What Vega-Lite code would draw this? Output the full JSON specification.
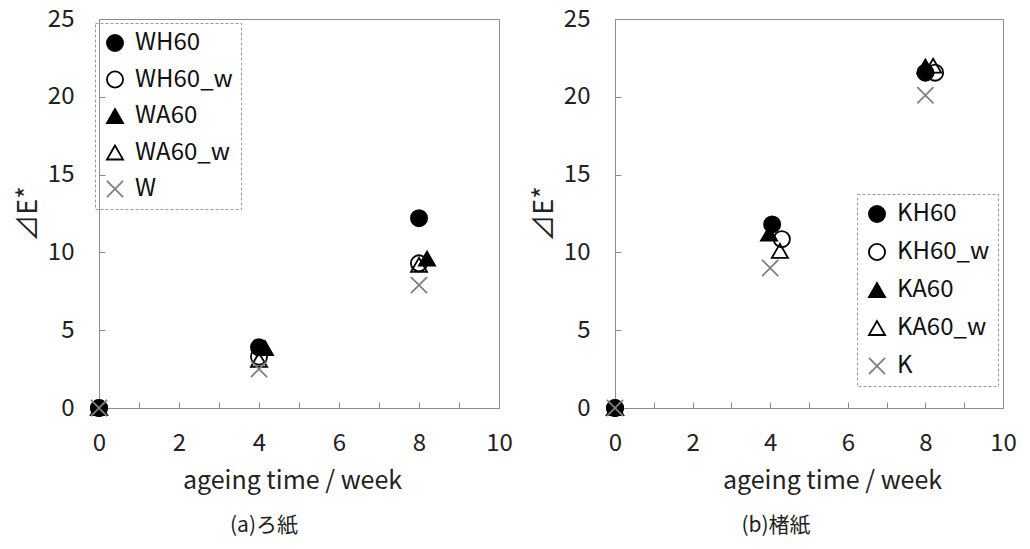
{
  "$schema": "https://vega.github.io/schema/vega-lite/v6.json",
  "background": "white",
  "padding": {"left": 13, "top": 6, "right": 5, "bottom": 5},
  "bounds": "flush",
  "spacing": 116,
  "resolve": {
    "scale": {"shape": "independent", "fill": "independent", "stroke": "independent"},
    "legend": {"shape": "independent", "fill": "independent", "stroke": "independent"}
  },
  "config": {
    "font": "Noto Sans CJK JP",
    "view": {"stroke": "#8c8c8c", "strokeWidth": 1},
    "axis": {
      "grid": false,
      "domainColor": "#8c8c8c",
      "tickColor": "#8c8c8c",
      "tickSize": -6,
      "labelColor": "#222222",
      "titleColor": "#222222",
      "labelFontSize": 24,
      "titleFontSize": 25,
      "titleFontWeight": "normal",
      "labelFlush": false,
      "labelOverlap": false
    },
    "legend": {
      "labelFontSize": 24,
      "labelColor": "#111111",
      "symbolSize": 260,
      "symbolStrokeWidth": 1.8,
      "rowPadding": 12.5,
      "labelOffset": 8,
      "padding": 8,
      "strokeColor": "#9a9a9a",
      "strokeDash": [3, 2]
    },
    "title": {"fontSize": 21, "fontWeight": "normal", "color": "#222222"}
  },
  "datasets": {
    "a": [
      {"series": "WH60", "week": 0, "dE": 0},
      {"series": "WH60", "week": 4, "dE": 3.9},
      {"series": "WH60", "week": 8, "dE": 12.2},
      {"series": "WH60_w", "week": 0, "dE": 0},
      {"series": "WH60_w", "week": 4, "dE": 3.3},
      {"series": "WH60_w", "week": 8, "dE": 9.3},
      {"series": "WA60", "week": 0, "dE": 0},
      {"series": "WA60", "week": 4.15, "dE": 3.85},
      {"series": "WA60", "week": 8.2, "dE": 9.6},
      {"series": "WA60_w", "week": 0, "dE": 0},
      {"series": "WA60_w", "week": 4, "dE": 3.1},
      {"series": "WA60_w", "week": 8, "dE": 9.2},
      {"series": "W", "week": 0, "dE": 0},
      {"series": "W", "week": 4, "dE": 2.5},
      {"series": "W", "week": 8, "dE": 7.9}
    ],
    "b": [
      {"series": "KH60", "week": 0, "dE": 0},
      {"series": "KH60", "week": 4.05, "dE": 11.8},
      {"series": "KH60", "week": 8, "dE": 21.55},
      {"series": "KH60_w", "week": 0, "dE": 0},
      {"series": "KH60_w", "week": 4.3, "dE": 10.85},
      {"series": "KH60_w", "week": 8.25, "dE": 21.55},
      {"series": "KA60", "week": 0, "dE": 0},
      {"series": "KA60", "week": 3.97, "dE": 11.2},
      {"series": "KA60", "week": 8, "dE": 21.95},
      {"series": "KA60_w", "week": 0, "dE": 0},
      {"series": "KA60_w", "week": 4.25, "dE": 10.1},
      {"series": "KA60_w", "week": 8.2, "dE": 22.0},
      {"series": "K", "week": 0, "dE": 0},
      {"series": "K", "week": 4, "dE": 9.0},
      {"series": "K", "week": 8, "dE": 20.1}
    ]
  },
  "hconcat": [
    {
      "width": 400,
      "height": 389,
      "title": {"text": "(a)ろ紙", "orient": "bottom", "offset": 22, "dx": -35},
      "data": {"name": "a"},
      "mark": {"type": "point", "size": 260, "strokeWidth": 1.8, "opacity": 1},
      "encoding": {
        "x": {
          "field": "week", "type": "quantitative",
          "scale": {"domain": [0, 10], "nice": false},
          "axis": {"values": [0, 1, 2, 3, 4, 5, 6, 7, 8, 9, 10], "labelExpr": "datum.value % 2 === 0 ? datum.label : ''", "title": "ageing time / week", "labelPadding": 29, "titlePadding": 13, "titleX": 193}
        },
        "y": {
          "field": "dE", "type": "quantitative",
          "scale": {"domain": [0, 25], "nice": false},
          "axis": {"values": [0, 5, 10, 15, 20, 25], "title": "⊿E*", "titleFontSize": 27, "labelPadding": 31, "titlePadding": 5}
        },
        "shape": {
          "field": "series", "type": "nominal",
          "scale": {"domain": ["WH60", "WH60_w", "WA60", "WA60_w", "W"], "range": ["circle", "circle", "triangle-up", "triangle-up", "M-1,-1L1,1M-1,1L1,-1"]},
          "legend": {"title": null, "orient": "none", "legendX": -4, "legendY": 4}
        },
        "fill": {
          "field": "series", "type": "nominal",
          "scale": {"domain": ["WH60", "WH60_w", "WA60", "WA60_w", "W"], "range": ["#000000", "transparent", "#000000", "transparent", "transparent"]},
          "legend": {"title": null, "orient": "none", "legendX": -4, "legendY": 4}
        },
        "stroke": {
          "field": "series", "type": "nominal",
          "scale": {"domain": ["WH60", "WH60_w", "WA60", "WA60_w", "W"], "range": ["#000000", "#000000", "#000000", "#000000", "#7f7f7f"]},
          "legend": {"title": null, "orient": "none", "legendX": -4, "legendY": 4}
        }
      }
    },
    {
      "width": 388,
      "height": 389,
      "title": {"text": "(b)楮紙", "orient": "bottom", "offset": 22, "dx": -33},
      "data": {"name": "b"},
      "mark": {"type": "point", "size": 260, "strokeWidth": 1.8, "opacity": 1},
      "encoding": {
        "x": {
          "field": "week", "type": "quantitative",
          "scale": {"domain": [0, 10], "nice": false},
          "axis": {"values": [0, 1, 2, 3, 4, 5, 6, 7, 8, 9, 10], "labelExpr": "datum.value % 2 === 0 ? datum.label : ''", "title": "ageing time / week", "labelPadding": 29, "titlePadding": 13, "titleX": 217}
        },
        "y": {
          "field": "dE", "type": "quantitative",
          "scale": {"domain": [0, 25], "nice": false},
          "axis": {"values": [0, 5, 10, 15, 20, 25], "title": "⊿E*", "titleFontSize": 27, "labelPadding": 31, "titlePadding": 5}
        },
        "shape": {
          "field": "series", "type": "nominal",
          "scale": {"domain": ["KH60", "KH60_w", "KA60", "KA60_w", "K"], "range": ["circle", "circle", "triangle-up", "triangle-up", "M-1,-1L1,1M-1,1L1,-1"]},
          "legend": {"title": null, "orient": "none", "legendX": 242, "legendY": 175, "rowPadding": 14}
        },
        "fill": {
          "field": "series", "type": "nominal",
          "scale": {"domain": ["KH60", "KH60_w", "KA60", "KA60_w", "K"], "range": ["#000000", "transparent", "#000000", "transparent", "transparent"]},
          "legend": {"title": null, "orient": "none", "legendX": 242, "legendY": 175, "rowPadding": 14}
        },
        "stroke": {
          "field": "series", "type": "nominal",
          "scale": {"domain": ["KH60", "KH60_w", "KA60", "KA60_w", "K"], "range": ["#000000", "#000000", "#000000", "#000000", "#7f7f7f"]},
          "legend": {"title": null, "orient": "none", "legendX": 242, "legendY": 175, "rowPadding": 14}
        }
      }
    }
  ]
}
